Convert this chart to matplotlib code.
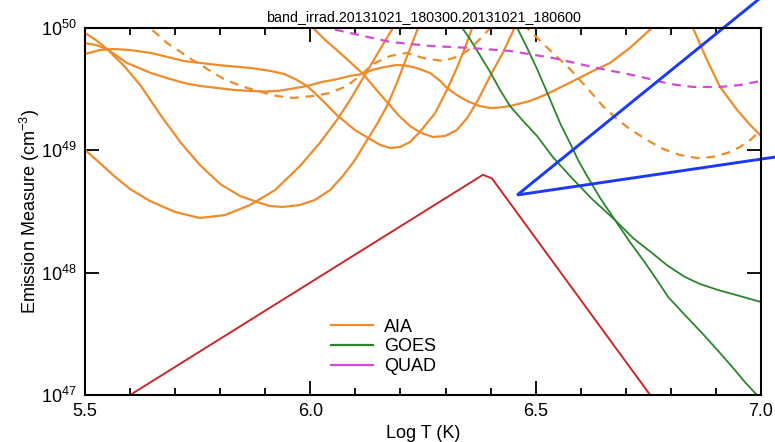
import matplotlib
matplotlib.use("Agg")
import matplotlib.pyplot as plt
import numpy as np
from matplotlib.lines import Line2D
from matplotlib.ticker import MultipleLocator, LogLocator, NullLocator, LogFormatterSciNotation

plt.rcParams['font.family'] = ['Liberation Sans', 'DejaVu Sans']
plt.rcParams['mathtext.default'] = 'regular'

title = 'band_irrad.20131021_180300.20131021_180600'

# AIA EM loci curves (log T, log EM)
aia1_t = [5.500, 5.533, 5.567, 5.600, 5.644, 5.700, 5.755, 5.811, 5.866, 5.922, 5.977, 6.021, 6.059, 6.088, 6.117, 6.150, 6.183, 6.199]
aia1_em = [49.003, 48.896, 48.782, 48.684, 48.586, 48.496, 48.447, 48.471, 48.553, 48.676, 48.872, 49.060, 49.248, 49.411, 49.591, 49.796, 50.000, 50.090]

aia2_t = [5.500, 5.524, 5.549, 5.587, 5.624, 5.669, 5.713, 5.755, 5.800, 5.844, 5.882, 5.910, 5.939, 5.977, 6.010, 6.044, 6.072, 6.099, 6.126, 6.148, 6.170, 6.192, 6.214, 6.239, 6.248]
aia2_em = [49.959, 49.902, 49.828, 49.689, 49.526, 49.281, 49.060, 48.880, 48.725, 48.627, 48.578, 48.545, 48.537, 48.553, 48.594, 48.676, 48.790, 48.921, 49.084, 49.215, 49.362, 49.550, 49.763, 50.000, 50.082]

aia3_t = [5.500, 5.533, 5.564, 5.600, 5.646, 5.720, 5.793, 5.868, 5.913, 5.942, 5.966, 5.993, 6.026, 6.061, 6.099, 6.132, 6.155, 6.177, 6.199, 6.221, 6.243, 6.277, 6.303, 6.328, 6.343, 6.359, 6.365]
aia3_em = [49.787, 49.820, 49.828, 49.820, 49.796, 49.730, 49.698, 49.673, 49.648, 49.624, 49.583, 49.526, 49.411, 49.281, 49.166, 49.093, 49.044, 49.019, 49.027, 49.068, 49.150, 49.305, 49.493, 49.698, 49.837, 50.000, 50.082]

aia4_t = [5.988, 6.006, 6.033, 6.061, 6.088, 6.117, 6.143, 6.170, 6.195, 6.221, 6.246, 6.272, 6.299, 6.325, 6.348, 6.372, 6.399, 6.428, 6.454, 6.465]
aia4_em = [50.082, 50.000, 49.902, 49.812, 49.722, 49.624, 49.510, 49.395, 49.289, 49.199, 49.142, 49.109, 49.117, 49.166, 49.264, 49.411, 49.608, 49.804, 50.008, 50.082]

aia5_t = [5.500, 5.524, 5.549, 5.571, 5.593, 5.620, 5.646, 5.682, 5.720, 5.755, 5.793, 5.831, 5.868, 5.899, 5.926, 5.955, 5.993, 6.026, 6.061, 6.088, 6.117, 6.137, 6.155, 6.177, 6.192, 6.210, 6.228, 6.248, 6.266, 6.288, 6.303, 6.325, 6.348, 6.376, 6.399, 6.421, 6.443, 6.487, 6.525, 6.561, 6.592, 6.627, 6.665, 6.709, 6.758, 6.776]
aia5_em = [49.877, 49.861, 49.828, 49.771, 49.714, 49.673, 49.632, 49.591, 49.550, 49.526, 49.510, 49.493, 49.485, 49.481, 49.485, 49.501, 49.526, 49.559, 49.583, 49.608, 49.624, 49.657, 49.673, 49.689, 49.698, 49.693, 49.681, 49.657, 49.632, 49.567, 49.510, 49.452, 49.403, 49.362, 49.346, 49.350, 49.362, 49.403, 49.460, 49.526, 49.583, 49.648, 49.714, 49.837, 50.000, 50.082]

aia6_t = [6.838, 6.849, 6.878, 6.909, 6.947, 6.976, 7.000]
aia6_em = [50.082, 50.000, 49.755, 49.518, 49.330, 49.207, 49.117]

# dashed AIA locus
aia94_t = [5.629, 5.644, 5.662, 5.682, 5.709, 5.735, 5.771, 5.808, 5.846, 5.882, 5.926, 5.962, 6.006, 6.044, 6.081, 6.110, 6.139, 6.177, 6.214, 6.250, 6.294, 6.332, 6.359, 6.383, 6.399, 6.439, 6.481, 6.510, 6.538, 6.576, 6.614, 6.649, 6.680, 6.709, 6.747, 6.783, 6.820, 6.858, 6.891, 6.925, 6.953, 6.976, 7.000]
aia94_em = [50.082, 50.000, 49.943, 49.877, 49.812, 49.747, 49.665, 49.583, 49.526, 49.485, 49.444, 49.428, 49.444, 49.469, 49.526, 49.608, 49.706, 49.771, 49.796, 49.755, 49.730, 49.771, 49.845, 49.935, 50.000, 50.106, 50.000, 49.894, 49.796, 49.665, 49.510, 49.362, 49.256, 49.174, 49.084, 49.011, 48.962, 48.937, 48.945, 48.978, 49.027, 49.084, 49.166]

# GOES loci
goes1_t = [6.321, 6.337, 6.354, 6.376, 6.399, 6.421, 6.443, 6.472, 6.503, 6.538, 6.576, 6.625, 6.676, 6.716, 6.758, 6.794, 6.831, 6.865, 6.905, 6.953, 7.000]
goes1_em = [50.082, 50.000, 49.910, 49.779, 49.640, 49.493, 49.362, 49.240, 49.117, 48.945, 48.790, 48.602, 48.430, 48.283, 48.161, 48.054, 47.965, 47.907, 47.858, 47.809, 47.760]

goes2_t = [6.447, 6.459, 6.481, 6.503, 6.521, 6.538, 6.556, 6.576, 6.594, 6.614, 6.643, 6.676, 6.709, 6.743, 6.769, 6.794, 6.831, 6.869, 6.905, 6.942, 6.964, 6.987, 7.000]
goes2_em = [50.082, 50.000, 49.837, 49.665, 49.510, 49.362, 49.207, 49.060, 48.921, 48.790, 48.610, 48.430, 48.251, 48.079, 47.940, 47.801, 47.654, 47.507, 47.360, 47.204, 47.106, 47.016, 46.959]

# QUAD locus
quad_t = [6.021, 6.039, 6.088, 6.177, 6.266, 6.354, 6.443, 6.538, 6.636, 6.725, 6.798, 6.849, 6.909, 6.953, 7.000]
quad_em = [50.016, 50.000, 49.959, 49.886, 49.853, 49.837, 49.812, 49.755, 49.673, 49.608, 49.542, 49.518, 49.518, 49.534, 49.567]

# DEM triangle
dem_t = [5.600, 6.383, 6.403, 6.754]
dem_em = [47.00, 48.80, 48.77, 47.00]

# hand-drawn pointer
pointer_t = [6.993, 6.459, 7.031]
pointer_em = [50.229, 48.635, 48.945]

orange = '#ee8c2c'
green = '#2a862a'
magenta = '#d34ad3'
red = '#c8282a'

fig = plt.figure(figsize=(7.75, 4.42), dpi=100)
ax = fig.add_axes([0.1097, 0.1063, 0.8723, 0.8304])

for t, em in [(aia1_t, aia1_em), (aia2_t, aia2_em), (aia3_t, aia3_em),
              (aia4_t, aia4_em), (aia5_t, aia5_em), (aia6_t, aia6_em)]:
    ax.plot(t, 10.0 ** np.array(em), color=orange, lw=1.6)
ax.plot(aia94_t, 10.0 ** np.array(aia94_em), color=orange, lw=1.6, dashes=(4, 3))

ax.plot(goes1_t, 10.0 ** np.array(goes1_em), color=green, lw=1.3)
ax.plot(goes2_t, 10.0 ** np.array(goes2_em), color=green, lw=1.3)

ax.plot(quad_t, 10.0 ** np.array(quad_em), color=magenta, lw=1.6, dashes=(4, 3))

ax.plot(dem_t, 10.0 ** np.array(dem_em), color=red, lw=1.4)

ax.plot(pointer_t, 10.0 ** np.array(pointer_em), color='#1a3af5', lw=2.1,
        clip_on=False, solid_joinstyle='miter')

ax.set_yscale('log')
ax.set_xlim(5.5, 7.0)
ax.set_ylim(1e47, 1e50)

ax.xaxis.set_major_locator(MultipleLocator(0.5))
ax.xaxis.set_minor_locator(MultipleLocator(0.1))
ax.xaxis.set_major_formatter(plt.FuncFormatter(lambda v, p: f'{v:.1f}'))
ax.yaxis.set_major_locator(LogLocator(base=10, numticks=10))
ax.yaxis.set_major_formatter(LogFormatterSciNotation())
ax.yaxis.set_minor_locator(NullLocator())

ax.tick_params(which='both', direction='in', top=True, right=True, labelsize=13, width=1.3)
ax.tick_params(which='major', length=10, pad=6)
ax.tick_params(which='minor', length=5)
for s in ax.spines.values():
    s.set_linewidth(1.5)

ax.set_xlabel('Log T (K)', fontsize=13, labelpad=3)
ax.set_ylabel('Emission Measure (cm$^{-3}$)', fontsize=13, labelpad=-1)
ax.set_title(title, fontsize=10.3, pad=5)

handles = [Line2D([], [], color=orange, lw=1.6),
           Line2D([], [], color=green, lw=1.6),
           Line2D([], [], color=magenta, lw=1.6)]
ax.legend(handles, ['AIA', 'GOES', 'QUAD'], loc='center', bbox_to_anchor=(0.442, 0.131),
          frameon=False, fontsize=13, handlelength=2.3, handletextpad=0.65, labelspacing=0.15)

fig.savefig('out.png', dpi=100)
